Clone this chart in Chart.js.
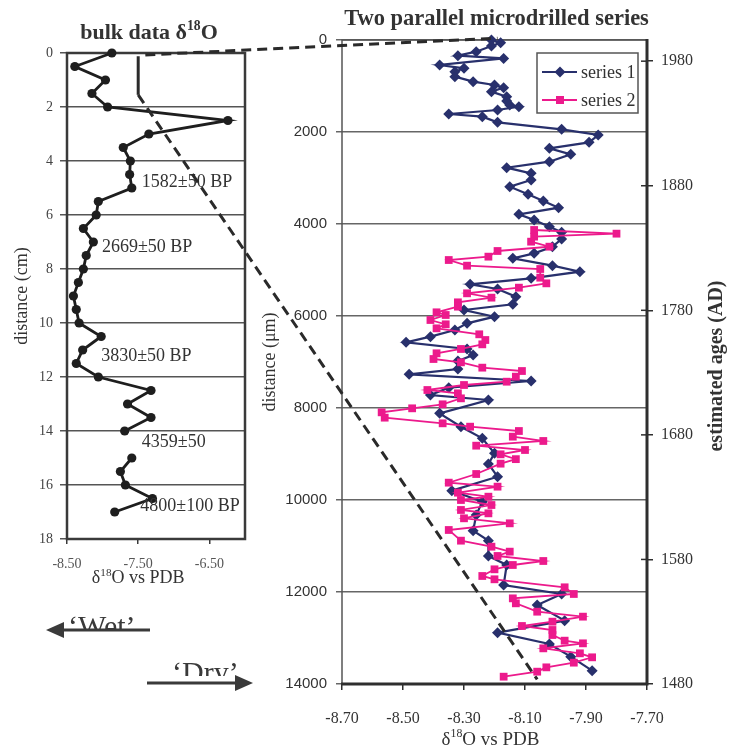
<!DOCTYPE html>
<html><head><meta charset="utf-8">
<script src="https://cdn.jsdelivr.net/npm/chart.js@4.4.0/dist/chart.umd.min.js"></script>
<style>
html,body{margin:0;padding:0;background:#fff;}
#wrap{position:relative;width:733px;height:751px;background:#fff;}
#wrap canvas{position:absolute;left:0;top:0;}
</style></head><body>
<div id="wrap"><canvas id="a" width="733" height="751"></canvas><canvas id="b" width="733" height="751"></canvas></div>
<script>
// ---------- DATA ----------
// Left panel: bulk data (distance in cm, d18O per mil); null = gap in the record
const bulkDepthCm = [0,0.5,1,1.5,2,2.5,3,3.5,4,4.5,5,5.5,6,6.5,7,7.5,8,8.5,9,9.5,10,10.5,11,11.5,12,12.5,13,13.5,14,14.5,15,15.5,16,16.5,17];
const bulkD18O   = [-7.87,-8.39,-7.96,-8.15,-7.93,-6.24,-7.35,-7.71,-7.61,-7.62,-7.59,-8.06,-8.09,-8.27,-8.13,-8.23,-8.27,-8.34,-8.41,-8.37,-8.33,-8.02,-8.28,-8.37,-8.06,-7.32,-7.65,-7.32,-7.69,null,-7.59,-7.75,-7.68,-7.30,-7.83];
const bulkXTicks = [-8.5,-7.5,-6.5];
const bulkYTicks = [0,2,4,6,8,10,12,14,16,18];
const dateLabels = ['1582\u00B150 BP','2669\u00B150 BP','3830\u00B150 BP','4359\u00B150','4800\u00B1100 BP'];
const dateLabelDepth = [4.77,7.2,11.25,14.43,16.8];
const dateLabelD18O = [-7.45,-8.01,-8.02,-7.45,-7.47];

// Right panel: microdrilled series (distance in micrometres, d18O)
const s1DepthUm = [0,60,130,254,340,400,543,616,690,797,906,978,1036,1123,1232,1326,1413,1449,1522,1609,1667,1790,1942,2065,2225,2355,2486,2645,2775,2899,3043,3188,3355,3500,3645,3790,3913,4058,4181,4326,4493,4638,4746,4906,5036,5181,5311,5413,5580,5746,5870,6015,6159,6304,6449,6572,6717,6848,6978,7152,7268,7413,7558,7717,7826,8116,8406,8659,8985,9217,9493,9797,10036,10326,10667,10884,11217,11413,11848,12043,12283,12623,12884,13130,13406,13710];
const s1D18O    = [-8.21,-8.18,-8.21,-8.26,-8.32,-8.17,-8.38,-8.30,-8.33,-8.33,-8.27,-8.20,-8.17,-8.21,-8.16,-8.16,-8.15,-8.12,-8.19,-8.35,-8.24,-8.19,-7.98,-7.86,-7.89,-8.02,-7.95,-8.02,-8.16,-8.08,-8.08,-8.15,-8.09,-8.04,-7.99,-8.12,-8.07,-8.02,-7.98,-7.98,-8.01,-8.07,-8.14,-8.01,-7.92,-8.08,-8.28,-8.19,-8.13,-8.14,-8.30,-8.20,-8.29,-8.33,-8.41,-8.49,-8.29,-8.27,-8.32,-8.32,-8.48,-8.08,-8.35,-8.41,-8.22,-8.38,-8.31,-8.24,-8.20,-8.22,-8.19,-8.34,-8.24,-8.26,-8.27,-8.22,-8.22,-8.16,-8.17,-7.98,-8.06,-7.97,-8.19,-8.02,-7.95,-7.88];
const s2DepthUm = [4130,4210,4275,4384,4493,4587,4710,4783,4906,4978,5167,5290,5384,5507,5601,5703,5797,5920,5978,6087,6181,6268,6398,6522,6616,6717,6811,6935,7007,7123,7196,7319,7428,7500,7609,7681,7790,7920,8007,8094,8210,8333,8406,8500,8623,8717,8819,8913,9007,9112,9210,9435,9623,9710,9841,9928,10000,10109,10217,10290,10398,10507,10652,10884,11015,11123,11217,11326,11413,11507,11652,11724,11898,12043,12138,12246,12428,12536,12645,12739,12826,12935,13058,13116,13225,13333,13420,13536,13638,13732,13841];
const s2D18O    = [-8.07,-7.80,-8.07,-8.08,-8.02,-8.19,-8.22,-8.35,-8.29,-8.05,-8.05,-8.03,-8.12,-8.29,-8.21,-8.32,-8.32,-8.39,-8.36,-8.41,-8.36,-8.39,-8.25,-8.23,-8.24,-8.31,-8.39,-8.40,-8.31,-8.24,-8.11,-8.13,-8.16,-8.30,-8.42,-8.32,-8.31,-8.37,-8.47,-8.57,-8.56,-8.37,-8.28,-8.12,-8.14,-8.04,-8.26,-8.10,-8.18,-8.13,-8.18,-8.26,-8.35,-8.19,-8.32,-8.22,-8.31,-8.21,-8.31,-8.22,-8.30,-8.15,-8.35,-8.31,-8.21,-8.15,-8.19,-8.04,-8.14,-8.20,-8.24,-8.20,-7.97,-7.94,-8.14,-8.13,-8.06,-7.91,-8.01,-8.11,-8.01,-8.01,-7.97,-7.91,-8.04,-7.92,-7.88,-7.94,-8.03,-8.06,-8.17];
const microXTicks = [-8.7,-8.5,-8.3,-8.1,-7.9,-7.7];
const microYTicks = [0,2000,4000,6000,8000,10000,12000,14000];
const ageTicks = [1480,1580,1680,1780,1880,1980];
const seriesNames = ['series 1','series 2'];

// connector lines between panels: [d18O, depth] in each panel's units
const connVertical = {from:[-7.5,0.12], to:[-7.5,1.55]};          // left panel only
const connTop      = {from:[-7.40,0.07], to:[-8.19,-40]};          // left -> right
const connBottom   = {from:[-7.5,1.55],  to:[-8.06,13900]};        // left -> right

// ---------- STYLE ----------
const SERIF = "'Liberation Serif','Times New Roman',serif";
const SANS = "'Liberation Sans',Arial,sans-serif";
const INK = '#333333';
const NAVY = '#28306c';
const MAG = '#ec1a8c';
Chart.defaults.font.family = SERIF;
Chart.defaults.color = INK;

function richText(ctx, parts, x, y, size, weight, align) {
  const f = s => `${weight} ${s}px ${SERIF}`;
  let w = 0;
  parts.forEach(([t, sup]) => { ctx.font = f(sup ? size*0.62 : size); w += ctx.measureText(t).width; });
  let cx = align === 'center' ? x - w/2 : x;
  ctx.textBaseline = 'alphabetic'; ctx.textAlign = 'left';
  parts.forEach(([t, sup]) => {
    ctx.font = f(sup ? size*0.62 : size);
    ctx.fillText(t, cx, sup ? y - size*0.40 : y);
    cx += ctx.measureText(t).width;
  });
}
function rotatedText(ctx, text, x, y, font) {
  ctx.save(); ctx.translate(x, y); ctx.rotate(-Math.PI/2);
  ctx.font = font; ctx.textAlign = 'center'; ctx.textBaseline = 'alphabetic';
  ctx.fillText(text, 0, 0); ctx.restore();
}

// ---------- LEFT PANEL ----------
const panelA = {
  id: 'panelA',
  beforeDatasetsDraw(chart) {
    const {ctx, chartArea: a} = chart;
    ctx.save();
    ctx.strokeStyle = '#3a3a3a'; ctx.lineWidth = 2.5;
    ctx.strokeRect(a.left, a.top, a.right - a.left, a.bottom - a.top);
    ctx.restore();
  },
  afterDraw(chart) {
    const {ctx, chartArea: a, scales: {x, y}} = chart;
    ctx.save();
    ctx.fillStyle = INK;
    richText(ctx, [['bulk data \u03B4'],['18',true],['O']], (a.left + a.right)/2 - 7, 38.5, 22, 'bold', 'center');
    richText(ctx, [['\u03B4'],['18',true],['O vs PDB']], x.getPixelForValue(-7.5), a.bottom + 44, 18, 'normal', 'center');
    rotatedText(ctx, 'distance (cm)', a.left - 40, (a.top + a.bottom)/2, `18px ${SERIF}`);
    ctx.font = `18px ${SERIF}`; ctx.textAlign = 'left'; ctx.textBaseline = 'middle';
    dateLabels.forEach((t, i) => ctx.fillText(t, x.getPixelForValue(dateLabelD18O[i]), y.getPixelForValue(dateLabelDepth[i])));
    ctx.strokeStyle = '#2a2a2a'; ctx.lineWidth = 3;
    ctx.beginPath();
    ctx.moveTo(x.getPixelForValue(connVertical.from[0]), y.getPixelForValue(connVertical.from[1]));
    ctx.lineTo(x.getPixelForValue(connVertical.to[0]), y.getPixelForValue(connVertical.to[1]));
    ctx.stroke();
    // Wet / Dry arrows
    const L = a.left, B = a.bottom;
    ctx.fillStyle = '#3a3a3a'; ctx.strokeStyle = '#3a3a3a';
    ctx.font = `30px ${SERIF}`; ctx.textBaseline = 'alphabetic'; ctx.textAlign = 'left';
    ctx.save(); ctx.beginPath(); ctx.rect(0, B + 60, 300, 31); ctx.clip();
    ctx.fillText('\u2018Wet\u2019', L + 1, B + 97); ctx.restore();
    ctx.lineWidth = 3;
    ctx.beginPath(); ctx.moveTo(L - 4, B + 91); ctx.lineTo(L + 83, B + 91); ctx.stroke();
    ctx.beginPath(); ctx.moveTo(L - 21, B + 91); ctx.lineTo(L - 3, B + 83); ctx.lineTo(L - 3, B + 99); ctx.closePath(); ctx.fill();
    ctx.save(); ctx.beginPath(); ctx.rect(0, B + 115, 300, 22); ctx.clip();
    ctx.fillText('\u2018Dry\u2019', L + 105, B + 143); ctx.restore();
    ctx.beginPath(); ctx.moveTo(L + 80, B + 144); ctx.lineTo(L + 170, B + 144); ctx.stroke();
    ctx.beginPath(); ctx.moveTo(L + 186, B + 144); ctx.lineTo(L + 168, B + 136); ctx.lineTo(L + 168, B + 152); ctx.closePath(); ctx.fill();
    ctx.restore();
  }
};

const chartA = new Chart(document.getElementById('a'), {
  type: 'scatter',
  data: { datasets: [{
    data: bulkDepthCm.map((d, i) => ({x: bulkD18O[i], y: d})),
    showLine: true, spanGaps: false, clip: false,
    borderColor: '#1e1e1e', backgroundColor: '#1e1e1e', borderWidth: 2.8,
    pointRadius: 4.6, pointStyle: 'circle', pointBorderWidth: 0
  }]},
  options: {
    responsive: false, animation: false, events: [],
    layout: { padding: { left: 17, top: 53, right: 488, bottom: 167 } },
    plugins: { legend: {display: false}, tooltip: {enabled: false}, title: {display: false} },
    scales: {
      x: { type: 'linear', min: -8.5, max: -6.0, position: 'bottom',
        afterBuildTicks: s => { s.ticks = bulkXTicks.map(v => ({value: v})); },
        afterFit: s => { s.height = 45; },
        grid: { drawOnChartArea: false, drawTicks: true, tickLength: 5, color: '#3a3a3a', lineWidth: 1.5 },
        border: { display: false },
        ticks: { padding: 12, font: {size: 14}, color: '#555', maxRotation: 0, autoSkip: false, callback: v => v.toFixed(2) }
      },
      y: { type: 'linear', reverse: true, min: 0, max: 18,
        afterBuildTicks: s => { s.ticks = bulkYTicks.map(v => ({value: v})); },
        afterFit: s => { s.width = 50; },
        grid: { color: '#555', lineWidth: 1.5, tickLength: 7, drawTicks: true },
        border: { display: false },
        ticks: { padding: 7, font: {size: 14}, color: '#444', autoSkip: false, callback: v => String(v) }
      }
    }
  },
  plugins: [panelA]
});

// ---------- RIGHT PANEL ----------
const panelB = {
  id: 'panelB',
  beforeDatasetsDraw(chart) {
    const {ctx, chartArea: a, scales} = chart;
    ctx.save();
    ctx.strokeStyle = '#555'; ctx.lineWidth = 1.5;
    ctx.beginPath(); ctx.moveTo(a.left, a.bottom); ctx.lineTo(a.left, a.top); ctx.lineTo(a.right, a.top); ctx.stroke();
    ctx.strokeStyle = '#2e2e2e'; ctx.lineWidth = 3;
    ctx.beginPath(); ctx.moveTo(a.left - 1, a.bottom); ctx.lineTo(a.right, a.bottom); ctx.lineTo(a.right, a.top - 1); ctx.stroke();
    ctx.lineWidth = 1.5;
    ageTicks.forEach(v => { const py = scales.yAge.getPixelForValue(v); ctx.beginPath(); ctx.moveTo(a.right - 6, py); ctx.lineTo(a.right, py); ctx.stroke(); });
    ctx.restore();
  },
  afterDraw(chart) {
    const {ctx, chartArea: a, scales: {x, y}} = chart;
    ctx.save();
    ctx.fillStyle = INK;
    richText(ctx, [['Two parallel microdrilled series']], (a.left + a.right)/2 + 2, 25, 22.5, 'bold', 'center');
    richText(ctx, [['\u03B4'],['18',true],['O vs PDB']], (a.left + a.right)/2 - 4, a.bottom + 61, 19, 'normal', 'center');
    rotatedText(ctx, 'distance (\u03BCm)', a.left - 67, (a.top + a.bottom)/2, `18px ${SERIF}`);
    rotatedText(ctx, 'estimated ages (AD)', a.right + 75, (a.top + a.bottom)/2 + 4, `bold 20px ${SERIF}`);
    // legend
    const lx = a.right - 110, ly = a.top + 13, lw = 101, lh = 60;
    ctx.fillStyle = '#fff'; ctx.fillRect(lx, ly, lw, lh);
    ctx.strokeStyle = '#555'; ctx.lineWidth = 1.5; ctx.strokeRect(lx, ly, lw, lh);
    const styles = [{c: NAVY, shape: 'diamond'}, {c: MAG, shape: 'square'}];
    seriesNames.forEach((name, i) => {
      const yy = ly + 19 + i * 28;
      ctx.strokeStyle = styles[i].c; ctx.fillStyle = styles[i].c; ctx.lineWidth = 2;
      ctx.beginPath(); ctx.moveTo(lx + 5, yy); ctx.lineTo(lx + 40, yy); ctx.stroke();
      const mx = lx + 23;
      ctx.beginPath();
      if (styles[i].shape === 'diamond') { ctx.moveTo(mx, yy - 5.5); ctx.lineTo(mx + 5.5, yy); ctx.lineTo(mx, yy + 5.5); ctx.lineTo(mx - 5.5, yy); ctx.closePath(); ctx.fill(); }
      else { ctx.fillRect(mx - 4, yy - 4, 8, 8); }
      ctx.fillStyle = INK; ctx.font = `18px ${SERIF}`; ctx.textAlign = 'left'; ctx.textBaseline = 'middle';
      ctx.fillText(name, lx + 44, yy + 1);
    });
    // dashed connectors from the bulk panel
    const ax = chartA.scales.x, ay = chartA.scales.y;
    ctx.strokeStyle = '#2a2a2a'; ctx.lineWidth = 3; ctx.setLineDash([10, 6]);
    [connTop, connBottom].forEach(c => {
      ctx.beginPath();
      ctx.moveTo(ax.getPixelForValue(c.from[0]), ay.getPixelForValue(c.from[1]));
      ctx.lineTo(x.getPixelForValue(c.to[0]), y.getPixelForValue(c.to[1]));
      ctx.stroke();
    });
    ctx.restore();
  }
};

const chartB = new Chart(document.getElementById('b'), {
  type: 'scatter',
  data: { datasets: [
    { label: seriesNames[0], data: s1DepthUm.map((d, i) => ({x: s1D18O[i], y: d})),
      showLine: true, clip: false, order: 1,
      borderColor: NAVY, backgroundColor: NAVY, borderWidth: 2.2,
      pointStyle: 'rectRot', pointRadius: 5.5, pointBorderWidth: 0 },
    { label: seriesNames[1], data: s2DepthUm.map((d, i) => ({x: s2D18O[i], y: d})),
      showLine: true, clip: false, order: 0,
      borderColor: MAG, backgroundColor: MAG, borderWidth: 1.8,
      pointStyle: 'rect', pointRadius: 5.5, pointBorderWidth: 0 }
  ]},
  options: {
    responsive: false, animation: false, events: [],
    layout: { padding: { left: 342 - 65, top: 40, right: 733 - 647 - 60, bottom: 751 - 684 - 45 } },
    plugins: { legend: {display: false}, tooltip: {enabled: false}, title: {display: false} },
    scales: {
      x: { type: 'linear', min: -8.7, max: -7.7, position: 'bottom',
        afterBuildTicks: s => { s.ticks = microXTicks.map(v => ({value: v})); },
        afterFit: s => { s.height = 45; },
        grid: { drawOnChartArea: false, drawTicks: true, tickLength: 6, color: '#2e2e2e', lineWidth: 1.5 },
        border: { display: false },
        ticks: { padding: 19, font: {size: 16}, color: INK, maxRotation: 0, autoSkip: false, callback: v => v.toFixed(2) }
      },
      y: { type: 'linear', reverse: true, min: 0, max: 14000, position: 'left',
        afterBuildTicks: s => { s.ticks = microYTicks.map(v => ({value: v})); },
        afterFit: s => { s.width = 65; },
        grid: { color: '#666', lineWidth: 1.5, tickLength: 6, drawTicks: true },
        border: { display: false },
        ticks: { padding: 9, font: {size: 15, family: SANS}, color: INK, autoSkip: false, callback: v => String(v) }
      },
      yAge: { type: 'linear', axis: 'y', position: 'right', min: 1480, max: 1997,
        afterBuildTicks: s => { s.ticks = ageTicks.map(v => ({value: v})); },
        afterFit: s => { s.width = 60; },
        grid: { drawOnChartArea: false, drawTicks: true, tickLength: 6, color: '#2e2e2e', lineWidth: 1.5 },
        border: { display: false },
        ticks: { padding: 8, font: {size: 16}, color: INK, autoSkip: false, callback: v => String(v) }
      }
    }
  },
  plugins: [panelB]
});
</script>
</body></html>
